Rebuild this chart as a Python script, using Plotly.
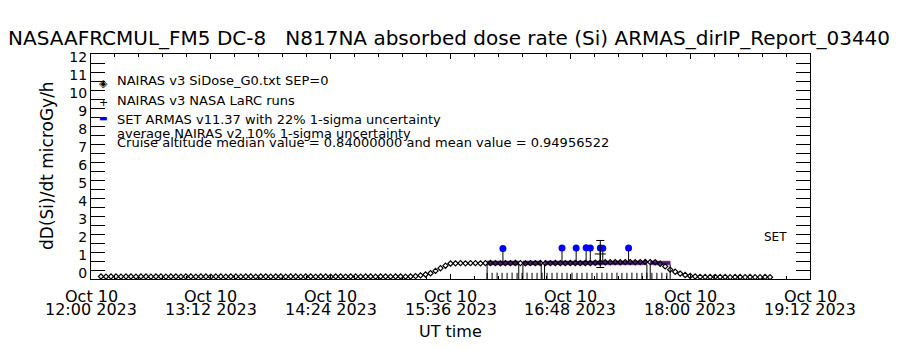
import plotly.graph_objects as go
import pandas as pd

DAY = "2023-10-10"


def ts(hm):
    return pd.Timestamp(f"{DAY} {hm}")


# NAIRAS v3 SiDose_G0.txt (SEP=0) model output on a 3-minute grid, microGy/h
g0_times = pd.date_range(ts("12:06"), ts("18:48"), freq="3min")
g0_dose = [
    0.14, 0.13, 0.14, 0.14, 0.13, 0.14, 0.14, 0.13, 0.14, 0.14,
    0.13, 0.14, 0.14, 0.13, 0.14, 0.14, 0.13, 0.14, 0.14, 0.13,
    0.14, 0.14, 0.13, 0.14, 0.14, 0.13, 0.14, 0.14, 0.13, 0.14,
    0.14, 0.13, 0.14, 0.14, 0.13, 0.14, 0.14, 0.13, 0.14, 0.14,
    0.13, 0.14, 0.14, 0.13, 0.14, 0.14, 0.13, 0.14, 0.14, 0.13,
    0.14, 0.14, 0.13, 0.14, 0.14, 0.13, 0.14, 0.14, 0.13, 0.14,
    0.14, 0.13, 0.14,
    0.16, 0.20, 0.25, 0.32, 0.45, 0.60, 0.74, 0.86,
    0.87, 0.88, 0.87, 0.88, 0.88, 0.87, 0.88, 0.89, 0.88, 0.87,
    0.88, 0.88, 0.89, 0.88, 0.87, 0.88, 0.88, 0.89, 0.88, 0.88,
    0.89, 0.88, 0.88, 0.89, 0.89, 0.88, 0.89, 0.89, 0.90,
    0.92, 0.93, 0.93, 0.94, 0.93, 0.94, 0.94, 0.93, 0.94, 0.95, 0.94, 0.93,
    0.85, 0.70, 0.52, 0.40, 0.30, 0.22, 0.17, 0.14,
    0.12, 0.11, 0.11, 0.12, 0.11, 0.11, 0.10, 0.11, 0.11, 0.10,
    0.11, 0.10, 0.10, 0.11, 0.10,
]

# NAIRAS v3 NASA LaRC runs along the flight track
larc_times = pd.date_range(ts("15:58"), ts("17:46"), freq="3min")
larc_dose = [
    0.15, 0.15, 0.16, 0.15, 0.15, 0.16, 0.15, 0.15, 0.16, 0.15,
    0.15, 0.16, 0.15, 0.15, 0.16, 0.15, 0.15, 0.16, 0.15, 0.15,
    0.16, 0.15, 0.15, 0.16, 0.15, 0.15, 0.16, 0.15, 0.15, 0.16,
    0.15, 0.15, 0.16, 0.15, 0.15, 0.16, 0.15,
]
larc_peak_time = ["17:06:00"]
larc_peak_dose = [1.39]
larc_peak_sigma = [0.75]

# SET ARMAS v11.37 measurements with lower uncertainty reach
armas_times = ["16:07:30", "16:43:00", "16:51:30", "16:57:30",
               "17:00:00", "17:06:00", "17:07:30", "17:23:00"]
armas_dose = [1.70, 1.72, 1.72, 1.73, 1.72, 1.72, 1.71, 1.72]
armas_low = [0.72, 0.74, 0.74, 0.75, 0.74, 0.74, 0.73, 0.74]

# average NAIRAS v2 with 10% 1-sigma band, per cruise segment
band_start = ["15:58:00", "16:19:30", "16:32:30", "17:36:00"]
band_end = ["16:17:00", "16:30:30", "17:34:00", "17:48:00"]
band_low = [0.78, 0.78, 0.79, 0.79]
band_high = [1.00, 1.00, 1.00, 0.99]

# axis ticks
x_tick_times = ["12:00", "13:12", "14:24", "15:36", "16:48", "18:00", "19:12"]
x_tick_day = "Oct 10"
x_tick_year = "2023"
y_ticks = list(range(0, 13))

FONT = "DejaVu Sans"
PURPLE = "rgb(86,22,120)"

fig = go.Figure()

# NAIRAS v2 band segments
for s, e, lo, hi in zip(band_start, band_end, band_low, band_high):
    fig.add_trace(go.Scatter(
        x=[ts(s), ts(e), ts(e), ts(s), ts(s)],
        y=[lo, lo, hi, hi, lo],
        mode="lines", fill="toself", fillcolor=PURPLE,
        line=dict(color=PURPLE, width=0.5), hoverinfo="skip",
    ))

# segment edges dropped to the axis
edge_x, edge_y = [], []
for s, e, lo in zip(band_start, band_end, band_low):
    for t in (s, e):
        edge_x += [ts(t), ts(t), None]
        edge_y += [0, lo, None]
fig.add_trace(go.Scatter(x=edge_x, y=edge_y, mode="lines",
                         line=dict(color="black", width=1), hoverinfo="skip"))

# LaRC runs
fig.add_trace(go.Scatter(
    x=larc_times, y=larc_dose, mode="markers",
    marker=dict(symbol="line-ns-open", size=5, color="black",
                line=dict(color="black", width=1)),
))

# G0 model
fig.add_trace(go.Scatter(
    x=g0_times, y=g0_dose, mode="markers",
    marker=dict(symbol="diamond-open", size=4, color="black",
                line=dict(color="black", width=1.2)),
))

# ARMAS measurements
fig.add_trace(go.Scatter(
    x=[ts(t) for t in armas_times], y=armas_dose, mode="markers",
    marker=dict(symbol="circle", size=7, color="#0000ff"),
    error_y=dict(type="data", symmetric=False, array=[0] * len(armas_dose),
                 arrayminus=armas_low, color="black", thickness=1, width=0),
))

# LaRC run with its uncertainty
fig.add_trace(go.Scatter(
    x=[ts(t) for t in larc_peak_time], y=larc_peak_dose, mode="markers",
    marker=dict(symbol="cross-thin-open", size=8, color="black",
                line=dict(color="black", width=1)),
    error_y=dict(type="data", array=larc_peak_sigma, color="black",
                 thickness=1, width=4),
))

L, R, T, B = 91, 90, 54, 71
W, H = 900, 350
PW, PH = W - L - R, H - T - B


def px(x):
    return (x - L) / PW


def py(y):
    return (H - B - y) / PH


def text(x, y, s, size, anchor="center", color="black", angle=0, xref="paper"):
    return dict(x=x, y=y, xref=xref, yref="paper", text=s, textangle=angle,
                showarrow=False, font=dict(family=FONT, size=size, color=color),
                xanchor=anchor, yanchor="middle")


ann = [
    text(px(449), py(38),
         "NASAAFRCMUL_FM5 DC-8\u00a0\u00a0\u00a0N817NA absorbed dose rate (Si) "
         "ARMAS_dirIP_Report_03440", 20),
    text(px(47), py(166), "dD(Si)/dt microGy/h", 17, angle=-90),
    text(px(450), py(331), "UT time", 16),
]

# two-line date tick labels
for t in x_tick_times:
    ann.append(text(ts(t), py(296), x_tick_day, 16, xref="x"))
    ann.append(text(ts(t), py(309), f"{t}\u00a0{x_tick_year}", 16, xref="x"))

# in-plot key
key = [
    ("NAIRAS v3 SiDose_G0.txt SEP=0", 80),
    ("NAIRAS v3 NASA LaRC runs", 100),
    ("SET ARMAS v11.37 with 22% 1-sigma uncertainty", 119),
    ("average NAIRAS v2 10% 1-sigma uncertainty", 133),
    ("Cruise altitude median value = 0.84000000 and mean value = 0.94956522", 142),
]
for txt, yy in key:
    ann.append(text(px(115), py(yy), txt, 13, anchor="left"))
ann.append(text(px(103), py(83), "◈", 11))
ann.append(text(px(103), py(102), "+", 11))
ann.append(text(px(103), py(118), "▬", 9, color="#0000ff"))
ann.append(text(px(775), py(237), "SET", 12))

fig.update_layout(
    width=W, height=H,
    margin=dict(l=L, r=R, t=T, b=B),
    paper_bgcolor="white", plot_bgcolor="white",
    showlegend=False,
    annotations=ann,
    font=dict(family=FONT, color="black"),
)

fig.update_xaxes(
    type="date",
    range=[ts("12:00"), ts("19:12")],
    tickvals=[ts(t) for t in x_tick_times],
    showticklabels=False,
    ticks="inside", ticklen=5, tickcolor="black", tickwidth=1,
    minor=dict(dtick=14.4 * 60 * 1000, tick0=ts("12:00"), ticks="inside",
               ticklen=3, tickcolor="black", showgrid=False),
    showline=True, linecolor="black", linewidth=1, mirror="allticks",
    showgrid=False, zeroline=False,
)
fig.update_yaxes(
    range=[0, 12.5],
    tickvals=y_ticks,
    ticktext=[str(v) for v in y_ticks],
    ticks="inside", ticklen=14, tickcolor="black", tickwidth=1,
    minor=dict(dtick=0.5, tick0=0, ticks="inside", ticklen=14,
               tickcolor="black", showgrid=False),
    tickfont=dict(family=FONT, size=14, color="black"),
    ticklabelshift=-6,
    showline=True, linecolor="black", linewidth=1, mirror="allticks",
    showgrid=False, zeroline=False,
)

fig.write_html("out.html")
